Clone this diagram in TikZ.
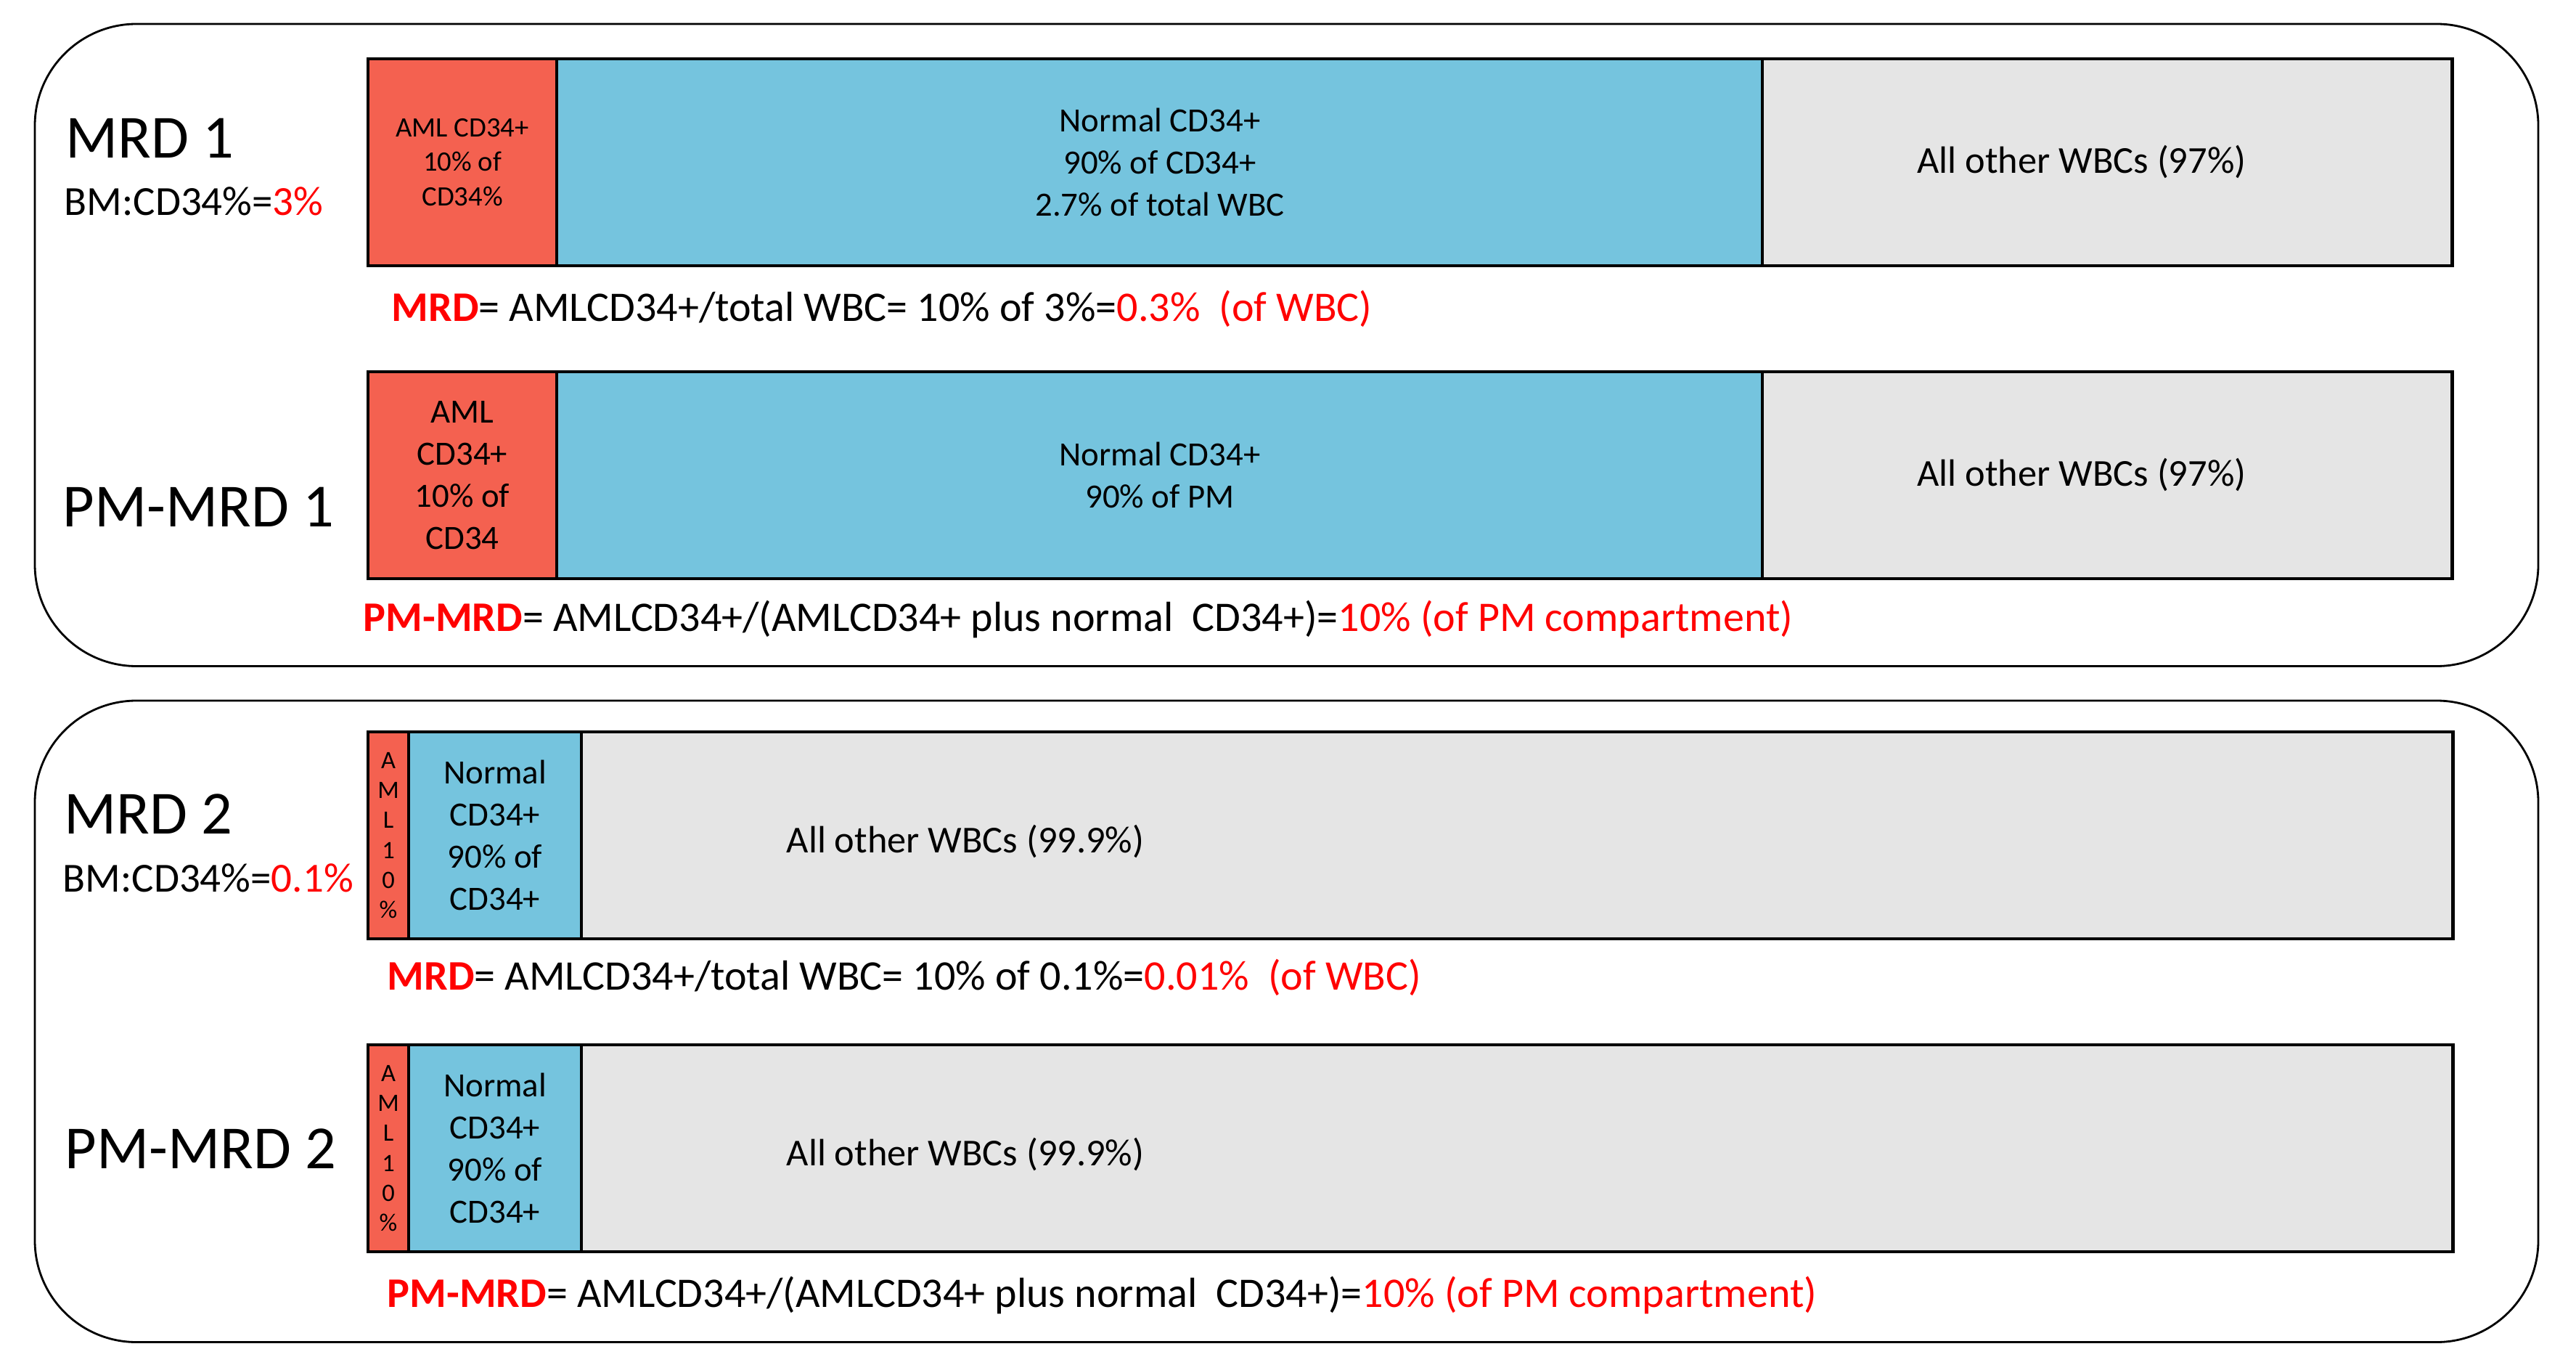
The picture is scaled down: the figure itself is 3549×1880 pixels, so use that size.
\documentclass[tikz,border=0pt]{standalone}
\usepackage{fontspec}
\setmainfont{Carlito}
\definecolor{amlred}{RGB}{244,97,80}
\definecolor{cdblue}{RGB}{117,196,222}
\definecolor{wbcgrey}{RGB}{229,229,229}
\definecolor{txtred}{RGB}{255,0,0}
\begin{document}
\begin{tikzpicture}[x=0.01cm,y=-0.01cm,
  frame/.style={draw=black,line width=0.8pt,rounded corners=1.4cm,inner sep=0pt,outer sep=0pt,anchor=north west,minimum width=34.47cm},
  seg/.style={draw=black,line width=0.9pt,inner sep=0pt,outer sep=0pt,anchor=north west,minimum height=2.85cm,align=center},
  barline/.style={draw=black,line width=1.2pt},
  title/.style={anchor=base west,inner sep=0pt,font=\fontsize{24}{28}\selectfont},
  bmtext/.style={anchor=base west,inner sep=0pt,font=\fontsize{16.2}{19}\selectfont},
  formula/.style={anchor=base west,inner sep=0pt,font=\fontsize{16.5}{19}\selectfont},
  segtext/.style={font=\fontsize{13.3}{16.5}\selectfont},
  smalltext/.style={font=\fontsize{11}{13.4}\selectfont},
  tinytext/.style={font=\fontsize{9.8}{11.7}\selectfont},
  greytext/.style={inner sep=0pt,font=\fontsize{14.9}{17}\selectfont}]
\useasboundingbox (0,0) rectangle (3549,1880);
\fill[white] (0,0) rectangle (3549,1880);

% outer frames
\node[frame,minimum height=8.84cm] (f1) at (48,33) {};
\node[frame,minimum height=8.83cm] (f2) at (48,965) {};

% ---- bar 1
\node[seg,fill=amlred,minimum width=2.60cm,smalltext] (r1) at (507,81) {AML CD34+\\10\% of\\CD34\%};
\node[seg,fill=cdblue,minimum width=16.61cm,segtext] (b1) at (767,81) {Normal CD34+\\90\% of CD34+\\2.7\% of total WBC};
\node[seg,fill=wbcgrey,minimum width=9.50cm] (g1) at (2428,81) {};
\draw[barline] (r1.north west) rectangle (g1.south east);
\node[greytext] (t1) at (2868,223) {All other WBCs (97\%)};

% ---- bar 2
\node[seg,fill=amlred,minimum width=2.60cm,segtext] (r2) at (507,512) {AML\\CD34+\\10\% of\\CD34};
\node[seg,fill=cdblue,minimum width=16.61cm,segtext] (b2) at (767,512) {Normal CD34+\\90\% of PM};
\node[seg,fill=wbcgrey,minimum width=9.50cm] (g2) at (2428,512) {};
\draw[barline] (r2.north west) rectangle (g2.south east);
\node[greytext] (t2) at (2868,654) {All other WBCs (97\%)};

% ---- bar 3
\node[seg,fill=amlred,minimum width=0.56cm,tinytext] (r3) at (507,1008) {A\\M\\L\\1\\0\\\%};
\node[seg,fill=cdblue,minimum width=2.38cm,segtext] (b3) at (563,1008) {Normal\\CD34+\\90\% of\\CD34+};
\node[seg,fill=wbcgrey,minimum width=25.77cm] (g3) at (801,1008) {};
\draw[barline] (r3.north west) rectangle (g3.south east);
\node[greytext] (t3) at (1330,1159) {All other WBCs (99.9\%)};

% ---- bar 4
\node[seg,fill=amlred,minimum width=0.56cm,tinytext] (r4) at (507,1439) {A\\M\\L\\1\\0\\\%};
\node[seg,fill=cdblue,minimum width=2.38cm,segtext] (b4) at (563,1439) {Normal\\CD34+\\90\% of\\CD34+};
\node[seg,fill=wbcgrey,minimum width=25.77cm] (g4) at (801,1439) {};
\draw[barline] (r4.north west) rectangle (g4.south east);
\node[greytext] (t4) at (1330,1590) {All other WBCs (99.9\%)};

% ---- titles
\node[title] (m1) at (90,218) {MRD 1};
\node[bmtext] (bm1) at (88,297) {BM:CD34\%={\color{txtred}3\%}};
\node[title] (p1) at (86,726) {PM-MRD 1};
\node[title] (m2) at (88,1149) {MRD 2};
\node[bmtext] (bm2) at (86,1228) {BM:CD34\%={\color{txtred}0.1\%}};
\node[title] (p2) at (89,1609) {PM-MRD 2};

% ---- formulas
\node[formula] (e1) at (539,443) {{\color{txtred}\bfseries MRD}= AMLCD34+/total WBC= 10\% of 3\%={\color{txtred}0.3\%\ \ (of WBC)}};
\node[formula] (e2) at (500,870) {{\color{txtred}\bfseries PM-MRD}= AMLCD34+/(AMLCD34+ plus normal\ \ CD34+)={\color{txtred}10\% (of PM compartment)}};
\node[formula] (e3) at (533,1363) {{\color{txtred}\bfseries MRD}= AMLCD34+/total WBC= 10\% of 0.1\%={\color{txtred}0.01\%\ \ (of WBC)}};
\node[formula] (e4) at (533,1800) {{\color{txtred}\bfseries PM-MRD}= AMLCD34+/(AMLCD34+ plus normal\ \ CD34+)={\color{txtred}10\% (of PM compartment)}};
\end{tikzpicture}
\end{document}
